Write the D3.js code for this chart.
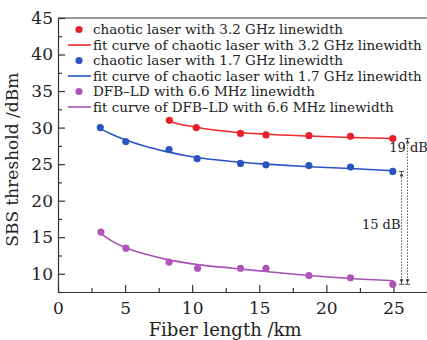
<!DOCTYPE html>
<html>
<head>
<meta charset="utf-8">
<script src="https://cdn.jsdelivr.net/npm/d3@7"></script>
<style>
  body { margin: 0; background: #ffffff; }
  svg { display: block; }
  text { font-family: "DejaVu Serif", "Liberation Serif", serif; fill: #222; }
</style>
</head>
<body>
<svg id="chart" width="427" height="340"></svg>
<script>
// Measured points (fiber length km, SBS threshold dBm)
const redLen = [8.3, 10.3, 13.6, 15.5, 18.7, 21.8, 24.95];
const redThr = [31.0, 30.0, 29.2, 29.0, 28.9, 28.8, 28.5];
const blueLen = [3.15, 5.05, 8.28, 10.37, 13.6, 15.5, 18.7, 21.8, 24.95];
const blueThr = [30.0, 28.1, 27.0, 25.75, 25.1, 24.9, 24.8, 24.6, 24.0];
const purpLen = [3.2, 5.07, 8.28, 10.4, 13.6, 15.5, 18.7, 21.8, 24.95];
const purpThr = [15.7, 13.5, 11.6, 10.75, 10.75, 10.75, 9.75, 9.45, 8.55];

// Fit curves
const redFitLen = [8.2, 9.0, 10.0, 11.5, 13.0, 15.5, 18.7, 21.8, 25.0];
const redFitThr = [30.9, 30.5, 30.15, 29.7, 29.4, 29.1, 28.85, 28.65, 28.5];
const blueFitLen = [3.0, 4.0, 5.0, 6.5, 8.0, 10.0, 13.0, 15.5, 18.7, 21.8, 25.0];
const blueFitThr = [30.0, 29.1, 28.35, 27.45, 26.75, 26.0, 25.35, 25.0, 24.65, 24.4, 24.1];
const purpFitLen = [3.2, 4.0, 5.0, 6.5, 8.0, 10.0, 13.0, 15.5, 18.7, 21.8, 25.0];
const purpFitThr = [15.5, 14.5, 13.6, 12.7, 12.0, 11.35, 10.75, 10.3, 9.75, 9.35, 9.05];

const legendLabels = [
  "chaotic laser with 3.2 GHz linewidth",
  "fit curve of chaotic laser with 3.2 GHz linewidth",
  "chaotic laser with 1.7 GHz linewidth",
  "fit curve of chaotic laser with 1.7 GHz linewidth",
  "DFB\u2013LD with 6.6 MHz linewidth",
  "fit curve of DFB\u2013LD with 6.6 MHz linewidth"
];
const xTicks = [0, 5, 10, 15, 20, 25];
const yTicks = [10, 15, 20, 25, 30, 35, 40, 45];

// Difference markers: x position, top value, bottom value, label
const gapX = [25.6, 26.05];
const gapTop = [24.0, 28.5];
const gapBottom = [8.55, 8.55];

const svg = d3.select('#chart');
const margin = { top: 18, right: 0, bottom: 48, left: 58 };
const width = 427 - margin.left - margin.right;
const height = 340 - margin.top - margin.bottom;

const x = d3.scaleLinear().domain([0, 27.5]).range([0, width]);
const y = d3.scaleLinear().domain([7.5, 45]).range([height, 0]);

const g = svg.append('g')
    .attr('transform', `translate(${margin.left},${margin.top})`);

const axisColor = '#333';

// Top border
g.append('line')
    .attr('x1', 0).attr('x2', width)
    .attr('y1', 0).attr('y2', 0)
    .attr('stroke', axisColor).attr('stroke-width', 1.2);

// Minor ticks (inward)
const xMinor = g.append('g')
    .attr('transform', `translate(0,${height})`)
    .call(d3.axisTop(x).tickValues([2.5, 7.5, 12.5, 17.5, 22.5, 27.5]).tickSize(4).tickFormat(''));
const yMinor = g.append('g')
    .call(d3.axisRight(y).tickValues([7.5, 12.5, 17.5, 22.5, 27.5, 32.5, 37.5, 42.5]).tickSize(4).tickFormat(''));
[xMinor, yMinor].forEach(a => a.select('.domain').remove());

// Major ticks (inward), labels outside
const xAxis = g.append('g')
    .attr('transform', `translate(0,${height})`)
    .call(d3.axisBottom(x).tickValues(xTicks).tickSizeInner(-7).tickSizeOuter(0).tickPadding(10));
const yAxis = g.append('g')
    .call(d3.axisLeft(y).tickValues(yTicks).tickSizeInner(-7).tickSizeOuter(0).tickPadding(5));

g.selectAll('.domain, .tick line')
    .attr('stroke', axisColor)
    .attr('stroke-width', 1.2);

xAxis.selectAll('text')
    .style('font-family', '"DejaVu Serif", serif')
    .style('font-size', '17px')
    .attr('fill', '#222');
yAxis.selectAll('text')
    .style('font-family', '"DejaVu Serif", serif')
    .style('font-size', '17px')
    .attr('fill', '#222');

// Axis titles
g.append('text')
    .attr('x', x(12.45))
    .attr('y', height + 44)
    .attr('text-anchor', 'middle')
    .style('font-size', '18px')
    .text('Fiber length /km');

g.append('text')
    .attr('transform', 'rotate(-90)')
    .attr('x', -y(25.6))
    .attr('y', -40)
    .attr('text-anchor', 'middle')
    .style('font-size', '17px')
    .text('SBS threshold /dBm');

// Series
const series = [
  { len: redLen, thr: redThr, fitLen: redFitLen, fitThr: redFitThr, color: '#f0282a', dot: '#e8202a' },
  { len: blueLen, thr: blueThr, fitLen: blueFitLen, fitThr: blueFitThr, color: '#2a52c8', dot: '#2a55c0' },
  { len: purpLen, thr: purpThr, fitLen: purpFitLen, fitThr: purpFitThr, color: '#a552b5', dot: '#b055b8' }
];

const line = d3.line()
    .x(d => x(d[0]))
    .y(d => y(d[1]))
    .curve(d3.curveMonotoneX);

series.forEach(s => {
  g.append('path')
      .datum(d3.zip(s.fitLen, s.fitThr))
      .attr('fill', 'none')
      .attr('stroke', s.color)
      .attr('stroke-width', 1.6)
      .attr('d', line);

  g.selectAll(null)
      .data(d3.zip(s.len, s.thr))
      .enter().append('circle')
      .attr('cx', d => x(d[0]))
      .attr('cy', d => y(d[1]))
      .attr('r', 3.6)
      .attr('fill', s.dot);
});

// Difference markers (dotted vertical with small arrows)
gapX.forEach((gx, i) => {
  const xx = x(gx);
  const y1 = y(gapTop[i]);
  const y2 = y(gapBottom[i]);
  g.append('line')
      .attr('x1', xx).attr('x2', xx)
      .attr('y1', y1).attr('y2', y2)
      .attr('stroke', '#333')
      .attr('stroke-width', 1)
      .attr('stroke-dasharray', '1.2,1.8');
  // arrowheads
  [[y1, 1], [y2, -1]].forEach(([yy, dir]) => {
    g.append('line')
        .attr('x1', xx - 2.5).attr('x2', xx + 2.5)
        .attr('y1', yy).attr('y2', yy)
        .attr('stroke', '#333').attr('stroke-width', 0.9);
    g.append('path')
        .attr('d', `M${xx - 1.8},${yy + dir * 5}L${xx},${yy + dir * 1}L${xx + 1.8},${yy + dir * 5}`)
        .attr('fill', '#333');
  });
});

g.append('text')
    .attr('x', x(gapX[1]) + 1)
    .attr('y', y(27.3))
    .attr('text-anchor', 'middle')
    .style('font-size', '13px')
    .attr('dy', '0.35em')
    .text('19 dB');

g.append('text')
    .attr('x', x(gapX[0]) - 1)
    .attr('y', y(16.8))
    .attr('text-anchor', 'end')
    .attr('dy', '0.35em')
    .style('font-size', '13px')
    .text('15 dB');

// Legend
const legend = g.append('g').attr('transform', 'translate(10,11.5)');
const legColors = ['#e8202a', '#f0282a', '#2a55c0', '#2a52c8', '#b055b8', '#a552b5'];
legendLabels.forEach((lab, i) => {
  const row = legend.append('g').attr('transform', `translate(0,${i * 15.5})`);
  if (i % 2 === 0) {
    row.append('circle').attr('cx', 11).attr('cy', 0).attr('r', 3.6).attr('fill', legColors[i]);
  } else {
    row.append('line').attr('x1', 0).attr('x2', 23).attr('y1', 0).attr('y2', 0)
        .attr('stroke', legColors[i]).attr('stroke-width', 1.6);
  }
  row.append('text')
      .attr('x', 25)
      .attr('y', 0)
      .attr('dy', '0.35em')
      .style('font-size', '13.5px')
      .text(lab);
});
</script>
</body>
</html>
